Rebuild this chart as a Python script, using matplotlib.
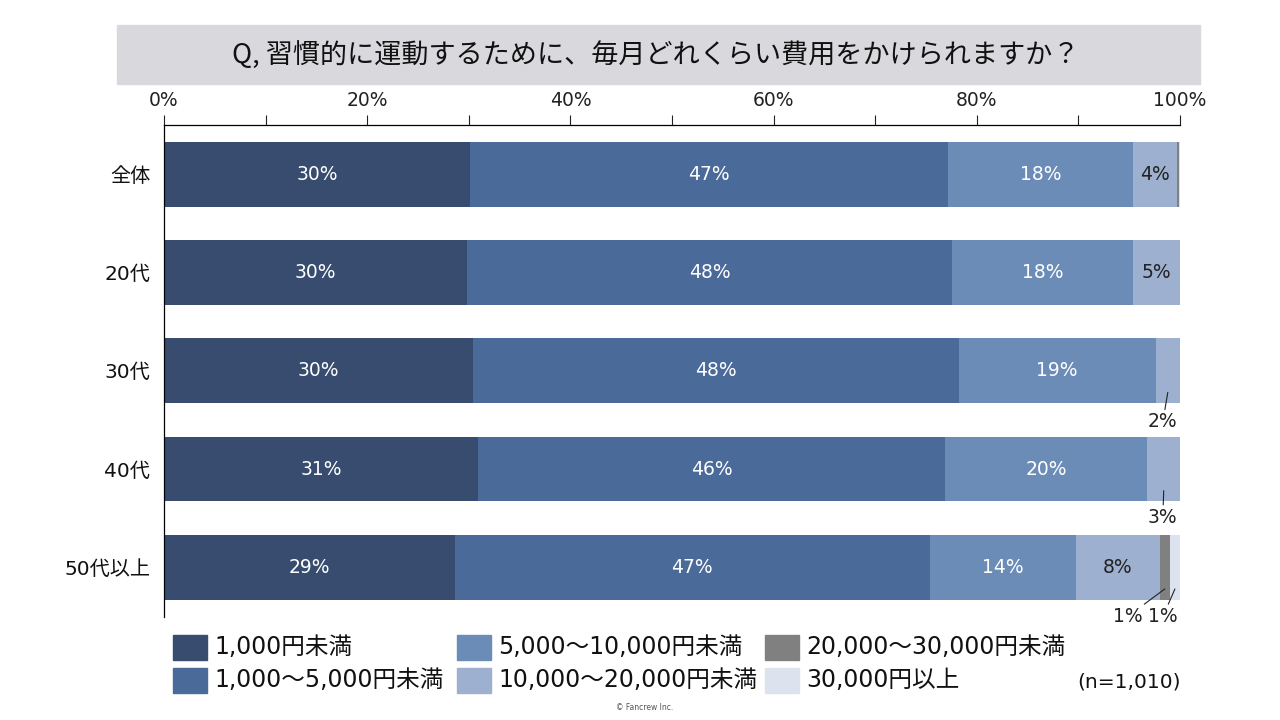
import matplotlib
matplotlib.use("Agg")
import matplotlib.pyplot as plt
from matplotlib.patches import Rectangle

plt.rcParams['font.family'] = ['DejaVu Sans', 'Noto Sans CJK JP']

title = "Q, 習慣的に運動するために、毎月どれくらい費用をかけられますか？"
categories = ["全体", "20代", "30代", "40代", "50代以上"]
series_names = ["1,000円未満", "1,000～5,000円未満", "5,000～10,000円未満",
                "10,000～20,000円未満", "20,000～30,000円未満", "30,000円以上"]
# percent values per series, one value per category
under_1000 = [30.1, 29.8, 30.4, 30.9, 28.6]
from_1000_5000 = [47.1, 47.8, 47.8, 46.0, 46.8]
from_5000_10000 = [18.2, 17.8, 19.4, 19.9, 14.4]
from_10000_20000 = [4.3, 4.6, 2.4, 3.2, 8.2]
from_20000_30000 = [0.2, 0.0, 0.0, 0.0, 1.0]
over_30000 = [0.1, 0.0, 0.0, 0.0, 1.0]
series = [under_1000, from_1000_5000, from_5000_10000,
          from_10000_20000, from_20000_30000, over_30000]
xticks = [0, 20, 40, 60, 80, 100]
n_note = "(n=1,010)"

colors = ["#374C6E", "#4A6A9A", "#6C8CB8", "#9EB0CF", "#808080", "#DDE3EE"]
text_colors = ["white", "white", "white", "#222222", "#222222", "#222222"]

fig = plt.figure(figsize=(12.8, 7.2), dpi=100)

# title box
fig.patches.append(Rectangle((117 / 1280, 1 - 84 / 720), 1083 / 1280, 59 / 720,
                             transform=fig.transFigure, color="#D9D9DD", zorder=0))
fig.text(656 / 1280, 1 - 55 / 720, title, ha="center", va="center",
         fontsize=19.5, color="#111111", family=['Noto Sans CJK JP', 'DejaVu Sans'])

ax = fig.add_axes([164 / 1280, 1 - 616.5 / 720, 1016 / 1280, 491.5 / 720])

ypos = list(range(len(categories)))
left = [0.0] * len(categories)
for i, vals in enumerate(series):
    ax.barh(ypos, vals, left=left, height=0.66, color=colors[i], zorder=2)
    for j, v in enumerate(vals):
        cx = left[j] + v / 2
        if v >= 4:
            ax.text(cx, j, f"{round(v)}%", ha="center", va="center",
                    fontsize=13.5, color=text_colors[i], zorder=3)
        left[j] += v

# small segments labelled outside with leader lines
small = [(2, 3, (-5, -20)), (3, 3, (-1, -17)), (4, 4, (-37, -18)), (4, 5, (-12, -18))]
for j, i, off in small:
    start = sum(s[j] for s in series[:i])
    cx = start + series[i][j] / 2
    ax.annotate(f"{round(series[i][j])}%", xy=(cx, j + 0.22), xytext=off,
                textcoords="offset pixels", ha="center", va="top",
                fontsize=13.5, color="#222222",
                arrowprops=dict(arrowstyle="-", color="#222222", lw=0.8,
                                shrinkA=0, shrinkB=0), zorder=4)

ax.set_xlim(0, 100)
ax.set_ylim(4.5, -0.5)
ax.xaxis.tick_top()
ax.set_xticks(range(0, 101, 10))
ax.set_xticklabels([f"{t}%" if t in xticks else "" for t in range(0, 101, 10)],
                   fontsize=13.5, color="#222222")
ax.tick_params(axis="x", length=7, width=0.8, color="#222222", pad=4)
ax.set_yticks(ypos)
ax.set_yticklabels(categories, fontsize=14.5, color="#111111")
ax.tick_params(axis="y", length=0, pad=10)
for side in ["right", "bottom"]:
    ax.spines[side].set_visible(False)
ax.spines["top"].set_linewidth(0.9)
ax.spines["left"].set_linewidth(0.9)

# legend drawn in three columns of two
col_x = [173, 457, 765]
row_y = [647, 680]
for k, name in enumerate(series_names):
    cx = col_x[k // 2]
    ry = row_y[k % 2]
    fig.patches.append(Rectangle((cx / 1280, 1 - (ry + 12.5) / 720), 34 / 1280, 25 / 720,
                                 transform=fig.transFigure, color=colors[k]))
    fig.text((cx + 41) / 1280, 1 - ry / 720, name, ha="left", va="center",
             fontsize=17, color="#111111")

fig.text(1181 / 1280, 1 - 682 / 720, n_note, ha="right", va="center",
         fontsize=14.5, color="#111111")
fig.text(645 / 1280, 1 - 707 / 720, "© Fancrew Inc.", ha="center", va="center",
         fontsize=5.5, color="#555555")

fig.savefig("out.png", dpi=100)
